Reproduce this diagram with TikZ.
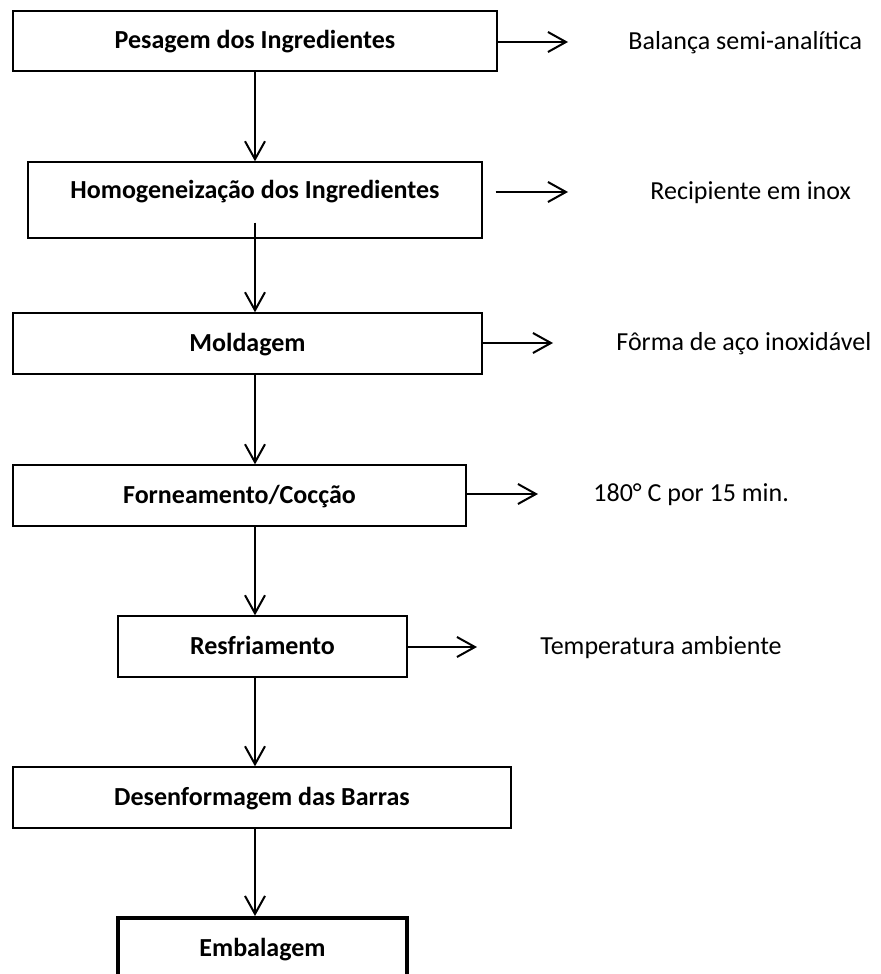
\documentclass[tikz,border=0pt]{standalone}
\usepackage{fontspec}
\setmainfont{Carlito}
\usetikzlibrary{arrows.meta}
\tikzstyle{stepbox}=[draw, rectangle, line width=0.7pt, inner sep=0pt, font=\fontsize{13}{15}\selectfont\bfseries, text height=10pt, text depth=2.5pt]
\tikzstyle{lastbox}=[stepbox, line width=2pt]
\tikzstyle{note}=[anchor=west, inner sep=0pt, font=\fontsize{13}{15}\selectfont, text height=10pt, text depth=2.5pt]
\tikzstyle{flow}=[-{Straight Barb[length=9pt, width=10pt]}, line width=1pt]

\begin{document}
\begin{tikzpicture}[x=0.5pt, y=-0.5pt]
    \clip (0,0) rectangle (880,974);

    % Process steps
    \node[stepbox, minimum width=242pt, minimum height=30pt] (pes) at (255,41) {Pesagem dos Ingredientes};
    \node[stepbox, minimum width=227pt, minimum height=38pt, text depth=11.5pt] (hom) at (255,200) {Homogeneização dos Ingredientes};
    \node[stepbox, minimum width=234.5pt, minimum height=30.5pt] (mol) at (247.5,343.5) {Moldagem};
    \node[stepbox, minimum width=226.5pt, minimum height=30.5pt] (forn) at (239.5,495.5) {Forneamento/Cocção};
    \node[stepbox, minimum width=144.5pt, minimum height=30.5pt] (res) at (262.5,646.5) {Resfriamento};
    \node[stepbox, minimum width=249pt, minimum height=30.5pt] (des) at (262,797.5) {Desenformagem das Barras};
    \node[lastbox, minimum width=144.5pt, minimum height=30.5pt] (emb) at (262.5,948.5) {Embalagem};

    % Equipment and conditions
    \node[note] (bal) at (628,42) {Balança semi-analítica};
    \node[note] (rec) at (650,192) {Recipiente em inox};
    \node[note] (frm) at (616,343) {Fôrma de aço inoxidável};
    \node[note] (tmp) at (593,494) {180° C por 15 min.};
    \node[note] (amb) at (540,647) {Temperatura ambiente};

    % Main flow
    \draw[flow] (pes.south) -- (pes.south |- hom.north);
    \draw[flow, shorten <=-8pt] (hom.south) -- (hom.south |- mol.north);
    \draw[flow] (mol.south -| pes.south) -- (forn.north -| pes.south);
    \draw[flow] (forn.south -| pes.south) -- (res.north -| pes.south);
    \draw[flow] (res.south -| pes.south) -- (des.north -| pes.south);
    \draw[flow] (des.south -| pes.south) -- (emb.north -| pes.south);

    % Side arrows
    \draw[flow, shorten >=30pt] (pes.east |- bal.west) -- (bal.west);
    \draw[flow, shorten <=6.5pt, shorten >=41pt] (hom.east |- rec.west) -- (rec.west);
    \draw[flow, shorten >=31.5pt] (mol.east |- frm.west) -- (frm.west);
    \draw[flow, shorten >=27.5pt] (forn.east |- tmp.west) -- (tmp.west);
    \draw[flow, shorten >=31.5pt] (res.east |- amb.west) -- (amb.west);
\end{tikzpicture}
\end{document}
